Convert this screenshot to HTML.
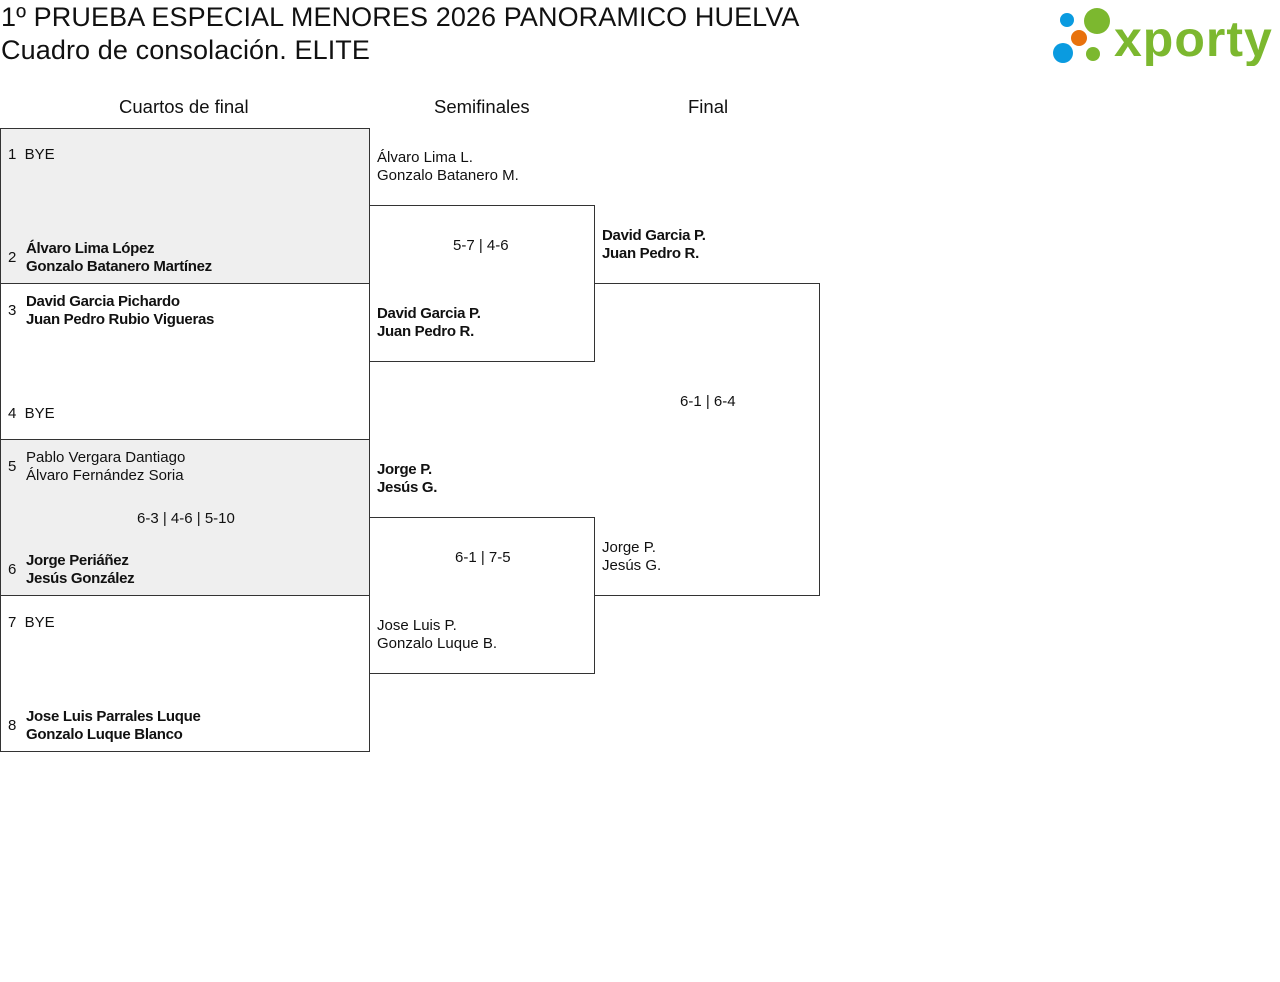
<!DOCTYPE html>
<html><head><meta charset="utf-8"><style>
body{margin:0;width:1280px;height:982px;background:#fff;position:relative;font-family:"Liberation Sans",sans-serif;color:#111;overflow:hidden}
.a{position:absolute;white-space:nowrap}
.t{font-size:15px;line-height:18px;margin-top:1px}
.b{position:absolute;border:1px solid #333;box-sizing:border-box}
.g{background:#efefef}
.bold{font-weight:bold;letter-spacing:-0.3px}
h1{position:absolute;margin:0;font-size:27px;font-weight:normal;left:1px;line-height:33px;letter-spacing:0.1px}
.hd{font-size:18.5px;position:absolute;top:96px}
</style></head><body>
<h1 style="top:1px">1º PRUEBA ESPECIAL MENORES 2026 PANORAMICO HUELVA</h1>
<h1 style="top:34px">Cuadro de consolación. ELITE</h1>
<svg class="a" style="left:1050px;top:4px" width="226" height="62">
<circle cx="17" cy="16" r="7" fill="#0a9be0"/><circle cx="47" cy="17" r="13" fill="#7cb82f"/>
<circle cx="29" cy="34" r="8" fill="#e8720c"/><circle cx="13" cy="49" r="10" fill="#0a9be0"/><circle cx="43" cy="50" r="7" fill="#7cb82f"/>
<text x="64" y="52" font-family="Liberation Sans,sans-serif" font-weight="bold" font-size="50" fill="#7cb82f" letter-spacing="1">xporty</text>
</svg>
<div class="a hd" style="left:119px">Cuartos de final</div>
<div class="a hd" style="left:434px">Semifinales</div>
<div class="a hd" style="left:688px">Final</div>

<div class="b g" style="left:0;top:128px;width:370px;height:156px"></div>
<div class="b" style="left:0;top:283px;width:370px;height:157px"></div>
<div class="b g" style="left:0;top:439px;width:370px;height:157px"></div>
<div class="b" style="left:0;top:595px;width:370px;height:157px"></div>
<div class="b" style="left:369px;top:205px;width:226px;height:157px;border-left:none"></div>
<div class="b" style="left:369px;top:517px;width:226px;height:157px;border-left:none"></div>
<div class="b" style="left:594px;top:283px;width:226px;height:313px;border-left:none"></div>

<div class="a t" style="left:8px;top:145px">1&nbsp;&nbsp;BYE</div>
<div class="a t" style="left:8px;top:248px">2</div>
<div class="a t bold" style="left:26px;top:239px">Álvaro Lima López<br>Gonzalo Batanero Martínez</div>
<div class="a t" style="left:8px;top:301px">3</div>
<div class="a t bold" style="left:26px;top:292px">David Garcia Pichardo<br>Juan Pedro Rubio Vigueras</div>
<div class="a t" style="left:8px;top:404px">4&nbsp;&nbsp;BYE</div>
<div class="a t" style="left:8px;top:457px">5</div>
<div class="a t" style="left:26px;top:448px">Pablo Vergara Dantiago<br>Álvaro Fernández Soria</div>
<div class="a t" style="left:137px;top:509px">6-3 | 4-6 | 5-10</div>
<div class="a t" style="left:8px;top:560px">6</div>
<div class="a t bold" style="left:26px;top:551px">Jorge Periáñez<br>Jesús González</div>
<div class="a t" style="left:8px;top:613px">7&nbsp;&nbsp;BYE</div>
<div class="a t" style="left:8px;top:716px">8</div>
<div class="a t bold" style="left:26px;top:707px">Jose Luis Parrales Luque<br>Gonzalo Luque Blanco</div>

<div class="a t" style="left:377px;top:148px">Álvaro Lima L.<br>Gonzalo Batanero M.</div>
<div class="a t" style="left:453px;top:236px">5-7 | 4-6</div>
<div class="a t bold" style="left:377px;top:304px">David Garcia P.<br>Juan Pedro R.</div>
<div class="a t bold" style="left:377px;top:460px">Jorge P.<br>Jesús G.</div>
<div class="a t" style="left:455px;top:548px">6-1 | 7-5</div>
<div class="a t" style="left:377px;top:616px">Jose Luis P.<br>Gonzalo Luque B.</div>

<div class="a t bold" style="left:602px;top:226px">David Garcia P.<br>Juan Pedro R.</div>
<div class="a t" style="left:680px;top:392px">6-1 | 6-4</div>
<div class="a t" style="left:602px;top:538px">Jorge P.<br>Jesús G.</div>
</body></html>
